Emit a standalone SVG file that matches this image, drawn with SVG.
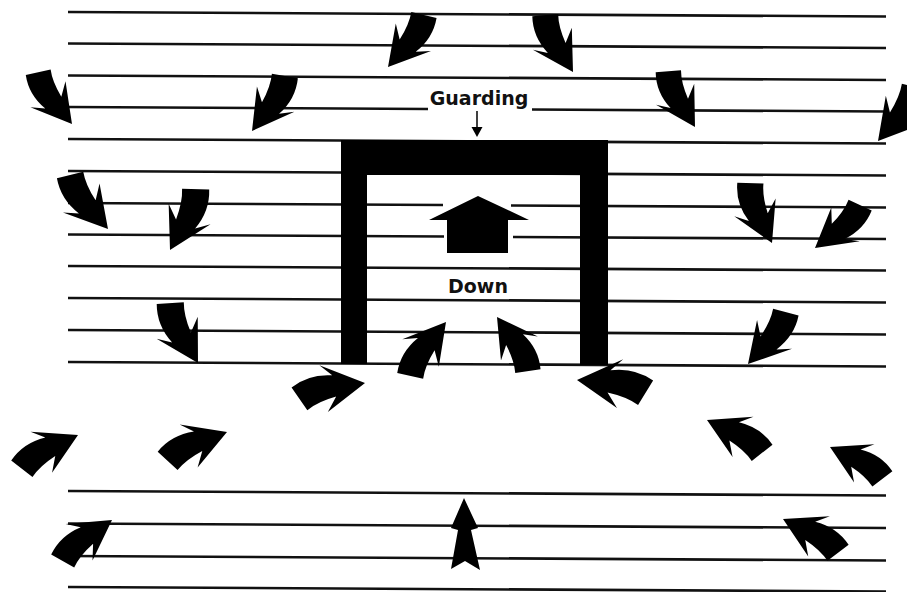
<svg xmlns="http://www.w3.org/2000/svg" width="907" height="592" viewBox="0 0 907 592">
<style>
.ln{stroke:#111;stroke-width:2.6;fill:none}
.blk{fill:#000}
.lbl{font-family:"DejaVu Sans","Liberation Sans",sans-serif;font-size:19px;font-weight:bold;fill:#111}
</style>
<defs>
<path id="arr" d="M0,0 L-28,-17 L-21,-7 Q-34,-9 -42,-14 L-51,3 Q-38,11 -22,8 L-30,16 Z"/>
</defs>
<rect width="907" height="592" fill="#fff"/>
<g id="lines" class="ln">
<line x1="68" y1="12" x2="886" y2="16.5"/>
<line x1="68" y1="43.5" x2="886" y2="48"/>
<line x1="68" y1="75.5" x2="886" y2="80"/>
<line x1="68" y1="107" x2="428" y2="109"/>
<line x1="532" y1="109.55" x2="886" y2="111.5"/>
<line x1="68" y1="139" x2="886" y2="143.5"/>
<line x1="68" y1="171" x2="886" y2="175.5"/>
<line x1="68" y1="203" x2="443" y2="205.06"/>
<line x1="511" y1="205.44" x2="886" y2="207.5"/>
<line x1="68" y1="234.5" x2="444" y2="236.57"/>
<line x1="513" y1="236.95" x2="886" y2="239"/>
<line x1="68" y1="266" x2="886" y2="270.5"/>
<line x1="68" y1="298" x2="886" y2="302.5"/>
<line x1="68" y1="330" x2="886" y2="334.5"/>
<line x1="68" y1="362" x2="886" y2="366.5"/>
<line x1="68" y1="491" x2="886" y2="495.5"/>
<line x1="68" y1="523.5" x2="886" y2="528"/>
<line x1="68" y1="556" x2="886" y2="560.5"/>
<line x1="68" y1="587" x2="886" y2="591.5"/>
</g>
<g id="frame" class="blk">
<path d="M341,364 L341,140 L608,140 L608,365 L580,365 L580,175 L367,175 L367,364 Z"/>
</g>
<g id="down-arrow" class="blk">
<path d="M478,196 L529,220 L508,220 L508,253 L447,253 L447,220 L429,220 Z"/>
</g>
<g id="guarding">
<text class="lbl" x="479" y="104.5" text-anchor="middle">Guarding</text>
<line x1="477" y1="111" x2="477" y2="129" stroke="#111" stroke-width="1.6"/>
<path class="blk" d="M471.5,127 L482.5,127 L477,137 Z"/>
</g>
<g id="down-label">
<text class="lbl" x="478" y="293" text-anchor="middle">Down</text>
</g>
<g id="arrows" class="blk">
<use href="#arr" transform="translate(72,124) rotate(50.1) scale(1.32)"/>
<use href="#arr" transform="translate(252,131) rotate(127.6) scale(1.37,-1.37)"/>
<use href="#arr" transform="translate(388,67) rotate(131.4) scale(1.35,-1.35)"/>
<use href="#arr" transform="translate(573,72) rotate(57.2) scale(1.35)"/>
<use href="#arr" transform="translate(695,127) rotate(57.7) scale(1.32)"/>
<use href="#arr" transform="translate(878,141) rotate(131.1) scale(1.4,-1.4)"/>
<use href="#arr" transform="translate(108,229) rotate(48.2) scale(1.41)"/>
<use href="#arr" transform="translate(170,250) rotate(119.6) scale(1.41,-1.41)"/>
<use href="#arr" transform="translate(198,363) rotate(58.4) scale(1.41)"/>
<use href="#arr" transform="translate(772,243) rotate(63.4) scale(1.36)"/>
<use href="#arr" transform="translate(815,248) rotate(143.2) scale(1.33,-1.33)"/>
<use href="#arr" transform="translate(748,364) rotate(132.9) scale(1.37,-1.37)"/>
<use href="#arr" transform="translate(446,322) rotate(-49.6) scale(1.38,-1.38)"/>
<use href="#arr" transform="translate(497,317) rotate(233.5) scale(1.33)"/>
<use href="#arr" transform="translate(365,383) rotate(-6.8) scale(1.44,-1.44)"/>
<use href="#arr" transform="translate(577,380) rotate(183.8) scale(1.49)"/>
<use href="#arr" transform="translate(78,435) rotate(-24.3) scale(1.4,-1.4)"/>
<use href="#arr" transform="translate(227,432) rotate(-19.2) scale(1.41,-1.41)"/>
<use href="#arr" transform="translate(112,520) rotate(-33) scale(1.37,-1.37)"/>
<use href="#arr" transform="translate(707,420) rotate(204) scale(1.37)"/>
<use href="#arr" transform="translate(830,447) rotate(204.6) scale(1.31)"/>
<use href="#arr" transform="translate(783,519) rotate(204.8) scale(1.38)"/>
<path d="M464,498 L478,528 L471,530 L480,570 L465,561 L451,569 L458,530 L451,528 Z"/>
</g>
</svg>
